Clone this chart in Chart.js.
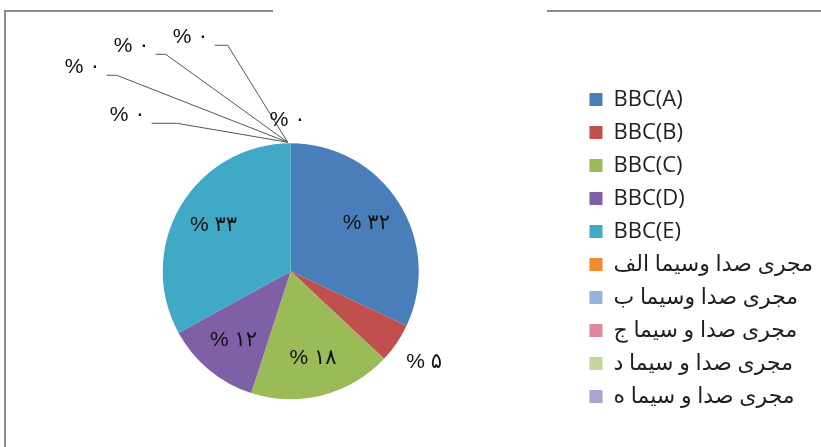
<!DOCTYPE html>
<html>
<head>
<meta charset="utf-8">
<script src="https://cdn.jsdelivr.net/npm/chart.js@4.4.0/dist/chart.umd.min.js"></script>
<style>
  html, body { margin: 0; padding: 0; background: #fff; }
  #wrap { position: relative; width: 821px; height: 447px; overflow: hidden; }
  #wrap canvas { position: absolute; left: 0; top: 0; }
</style>
</head>
<body>
<div id="wrap"><canvas id="pie" width="830" height="465"></canvas></div>
<script>
const categories = [
  'BBC(A)', 'BBC(B)', 'BBC(C)', 'BBC(D)', 'BBC(E)',
  'مجری صدا وسیما الف', 'مجری صدا وسیما ب', 'مجری صدا و سیما ج',
  'مجری صدا و سیما د', 'مجری صدا و سیما ه'
];
const shares = [32, 5, 18, 12, 33, 0, 0, 0, 0, 0];

const sliceColors = [
  '#4a7ebb', '#c0504d', '#9bbb59', '#7f5fa6', '#40a9c6',
  '#f08a2c', '#97b2df', '#d98a9c', '#c6d4a0', '#aaa3cd'
];
// where the 0% labels sit, relative to the point where the empty slices touch the rim [dx, dy, tail]
const zeroLabelSpots = [[-163, -28, 25], [-208, -76, 10], [-159, -97, 10], [-100, -106, 13], [-3, -23, 0]];

const faDigits = '۰۱۲۳۴۵۶۷۸۹';
const toFa = n => String(n).replace(/\d/g, d => faDigits[d]);

const frame = {
  id: 'frame',
  beforeDraw(chart) {
    const ctx = chart.ctx;
    ctx.save();
    ctx.fillStyle = '#fff';
    ctx.fillRect(0, 0, chart.width, chart.height);
    ctx.strokeStyle = '#8c8c8c';
    ctx.lineWidth = 2;
    ctx.beginPath();
    ctx.moveTo(5, 447); ctx.lineTo(5, 11); ctx.lineTo(273, 11);
    ctx.moveTo(547, 11); ctx.lineTo(830, 11);
    ctx.stroke();
    ctx.restore();
  }
};

const sliceLabels = {
  id: 'sliceLabels',
  afterDatasetsDraw(chart) {
    const ctx = chart.ctx;
    const arcs = chart.getDatasetMeta(0).data;
    ctx.save();
    ctx.font = '21px "Liberation Sans", "DejaVu Sans", sans-serif';
    ctx.fillStyle = '#111';
    ctx.textAlign = 'center';
    ctx.textBaseline = 'middle';
    let z = 0;
    arcs.forEach((arc, i) => {
      const v = shares[i];
      const txt = '% ' + toFa(v);
      const r = arc.outerRadius;
      const mid = (arc.startAngle + arc.endAngle) / 2;
      if (v === 0) {
        const ax = arc.x + Math.cos(arc.startAngle) * r;
        const ay = arc.y + Math.sin(arc.startAngle) * r;
        const [dx, dy, tail] = zeroLabelSpots[z++];
        const lx = ax + dx, ly = ay + dy;
        ctx.fillText(txt, lx, ly);
        if (tail > 0) {
          const sx = lx + ctx.measureText(txt).width / 2 + 6;
          ctx.strokeStyle = '#555';
          ctx.lineWidth = 1;
          ctx.beginPath();
          ctx.moveTo(sx, ly + 8);
          ctx.lineTo(sx + tail, ly + 8);
          ctx.lineTo(ax - 3, ay - 1);
          ctx.stroke();
        }
        return;
      }
      const f = v < 8 ? 1.26 : 0.7;
      ctx.fillText(txt, arc.x + Math.cos(mid) * r * f, arc.y + Math.sin(mid) * r * f);
    });
    ctx.restore();
  }
};

new Chart(document.getElementById('pie'), {
  type: 'pie',
  data: {
    labels: categories,
    datasets: [{
      data: shares,
      backgroundColor: sliceColors,
      borderWidth: 0,
      radius: 128
    }]
  },
  options: {
    responsive: false,
    animation: false,
    layout: { padding: { left: 3, right: 7, top: 77.5, bottom: 0 } },
    plugins: {
      tooltip: { enabled: false },
      legend: {
        position: 'right',
        align: 'start',
        labels: {
          boxWidth: 13,
          boxHeight: 13,
          padding: 11,
          color: '#1f1f1f',
          font: { family: '"Open Sans", "DejaVu Sans", sans-serif', size: 22 }
        }
      }
    }
  },
  plugins: [frame, sliceLabels]
});
</script>
</body>
</html>
